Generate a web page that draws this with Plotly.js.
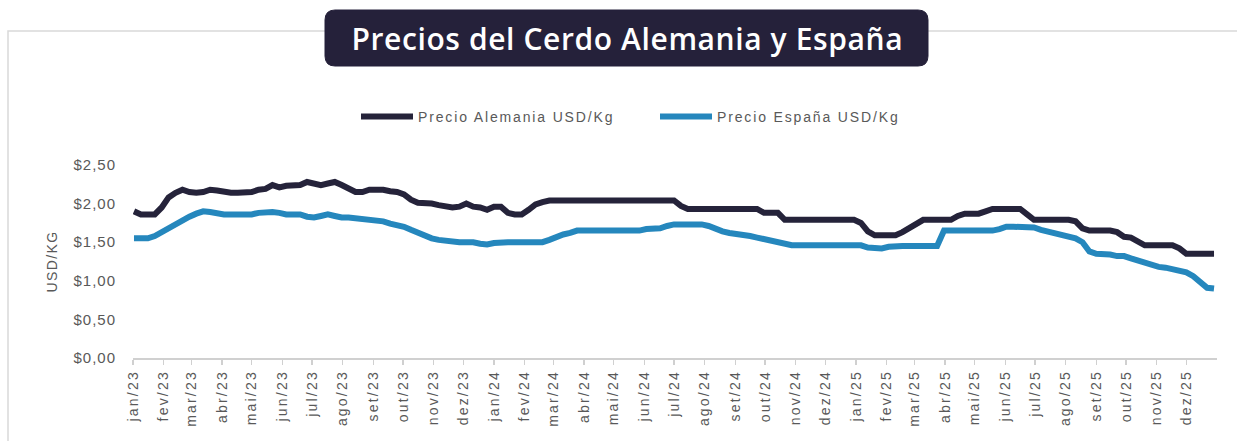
<!DOCTYPE html>
<html>
<head>
<meta charset="utf-8">
<script src="https://cdn.plot.ly/plotly-3.0.1.min.js"></script>
<style>
  html, body { margin: 0; padding: 0; background: #ffffff; }
  #chart { width: 1237px; height: 441px; }
  #chart .xtick text { letter-spacing: 2.2px; }
  #chart .ytick text { letter-spacing: 1px; }
  #chart .legendtext { letter-spacing: 1.85px; }
  #chart .ytitle { letter-spacing: 1.4px; }
  #chart .annotation-text { letter-spacing: 0.6px; }
</style>
</head>
<body>
<div id="chart"></div>
<script>
// ---- Data (weekly, starting Monday 2023-01-02) ----
const firstWeek = '2023-01-02';

const germany = [
  1.90, 1.86, 1.86, 1.86, 1.95, 2.08, 2.14, 2.18, 2.15, 2.14,
  2.15, 2.18, 2.17, 2.15, 2.14, 2.14, 2.14, 2.15, 2.18, 2.19,
  2.24, 2.21, 2.23, 2.24, 2.24, 2.28, 2.25, 2.24, 2.26, 2.28,
  2.24, 2.19, 2.15, 2.15, 2.18, 2.18, 2.18, 2.16, 2.15, 2.12,
  2.05, 2.01, 2.01, 2.00, 1.98, 1.97, 1.95, 1.96, 2.00, 1.96,
  1.95, 1.92, 1.96, 1.96, 1.88, 1.86, 1.86, 1.92, 1.99, 2.02,
  2.04, 2.04, 2.04, 2.04, 2.04, 2.04, 2.04, 2.04, 2.04, 2.04,
  2.04, 2.04, 2.04, 2.04, 2.04, 2.04, 2.04, 2.04, 2.04, 1.97,
  1.93, 1.93, 1.93, 1.93, 1.93, 1.93, 1.93, 1.93, 1.93, 1.93,
  1.93, 1.88, 1.88, 1.88, 1.79, 1.79, 1.79, 1.79, 1.79, 1.79,
  1.79, 1.79, 1.79, 1.79, 1.79, 1.75, 1.64, 1.59, 1.59, 1.59,
  1.59, 1.63, 1.69, 1.75, 1.79, 1.79, 1.79, 1.79, 1.79, 1.84,
  1.87, 1.87, 1.87, 1.90, 1.93, 1.93, 1.93, 1.93, 1.93, 1.86,
  1.79, 1.79, 1.79, 1.79, 1.79, 1.79, 1.77, 1.68, 1.65, 1.65,
  1.65, 1.65, 1.63, 1.57, 1.56, 1.50, 1.46, 1.46, 1.46, 1.46,
  1.46, 1.42, 1.35, 1.35, 1.35, 1.35, 1.35
];

const spain = [
  1.55, 1.55, 1.55, 1.58, 1.63, 1.69, 1.75, 1.79, 1.83, 1.87,
  1.90, 1.89, 1.87, 1.86, 1.86, 1.86, 1.86, 1.86, 1.88, 1.89,
  1.89, 1.88, 1.86, 1.86, 1.86, 1.83, 1.82, 1.84, 1.86, 1.84,
  1.82, 1.82, 1.81, 1.80, 1.79, 1.78, 1.77, 1.74, 1.72, 1.70,
  1.66, 1.62, 1.58, 1.55, 1.53, 1.52, 1.50, 1.50, 1.50, 1.50,
  1.48, 1.47, 1.49, 1.50, 1.50, 1.50, 1.50, 1.50, 1.50, 1.50,
  1.53, 1.57, 1.60, 1.62, 1.65, 1.65, 1.65, 1.65, 1.65, 1.65,
  1.65, 1.65, 1.65, 1.65, 1.67, 1.68, 1.68, 1.71, 1.73, 1.73,
  1.73, 1.73, 1.73, 1.71, 1.67, 1.64, 1.62, 1.61, 1.60, 1.58,
  1.56, 1.54, 1.51, 1.49, 1.47, 1.46, 1.46, 1.46, 1.46, 1.46,
  1.46, 1.46, 1.46, 1.46, 1.46, 1.46, 1.43, 1.42, 1.42, 1.44,
  1.45, 1.45, 1.45, 1.45, 1.45, 1.45, 1.45, 1.65, 1.65, 1.65,
  1.65, 1.65, 1.65, 1.65, 1.65, 1.67, 1.70, 1.70, 1.70, 1.70,
  1.69, 1.66, 1.64, 1.62, 1.60, 1.57, 1.55, 1.50, 1.38, 1.35,
  1.35, 1.34, 1.32, 1.32, 1.29, 1.26, 1.23, 1.20, 1.18, 1.17,
  1.15, 1.13, 1.11, 1.06, 0.98, 0.91, 0.90
];

const seriesNames = ['Precio Alemania USD/Kg', 'Precio España USD/Kg'];
const monthAbbr = ['jan', 'fev', 'mar', 'abr', 'mai', 'jun', 'jul', 'ago', 'set', 'out', 'nov', 'dez'];
const years = [2023, 2024, 2025];
const yTicks = [0, 0.5, 1.0, 1.5, 2.0, 2.5];
const yTickLabels = ['$0,00', '$0,50', '$1,00', '$1,50', '$2,00', '$2,50'];
const chartTitle = 'Precios del Cerdo Alemania y España';
const yTitle = 'USD/KG';

// ---- Build x dates and month ticks ----
const start = new Date(firstWeek + 'T00:00:00Z').getTime();
const weeks = germany.map((_, i) => new Date(start + i * 7 * 86400000).toISOString().slice(0, 10));

const tickVals = [];
const tickText = [];
years.forEach(y => {
  monthAbbr.forEach((m, k) => {
    tickVals.push(y + '-' + String(k + 1).padStart(2, '0') + '-01');
    tickText.push(m + '/' + String(y).slice(2));
  });
});

// ---- Geometry helpers (pixel -> paper) ----
const W = 1237, H = 441;
const M = { l: 133, r: 20, t: 165, b: 83 };
const PW = W - M.l - M.r, PH = H - M.t - M.b;
const px = X => (X - M.l) / PW;
const py = Y => (H - M.b - Y) / PH;

function roundRect(X0, Y0, X1, Y1, r) {
  const x0 = px(X0), x1 = px(X1), yt = py(Y0), yb = py(Y1);
  const rx = r / PW, ry = r / PH;
  return `M ${x0 + rx},${yb} L ${x1 - rx},${yb} Q ${x1},${yb} ${x1},${yb + ry} ` +
         `L ${x1},${yt - ry} Q ${x1},${yt} ${x1 - rx},${yt} L ${x0 + rx},${yt} ` +
         `Q ${x0},${yt} ${x0},${yt - ry} L ${x0},${yb + ry} Q ${x0},${yb} ${x0 + rx},${yb} Z`;
}

const grey = '#595959';
const txtFont = 'Liberation Sans, Arial, sans-serif';

const traces = [
  {
    x: weeks, y: germany, name: seriesNames[0], type: 'scatter', mode: 'lines',
    line: { color: '#25233a', width: 6 }
  },
  {
    x: weeks, y: spain, name: seriesNames[1], type: 'scatter', mode: 'lines',
    line: { color: '#2587bd', width: 6 }
  }
];

const layout = {
  width: W, height: H,
  margin: M,
  paper_bgcolor: '#ffffff',
  plot_bgcolor: '#ffffff',
  separators: ',.',
  showlegend: true,
  legend: {
    orientation: 'h',
    x: px(356), xanchor: 'left',
    y: py(117), yanchor: 'middle',
    font: { family: txtFont, size: 14, color: grey },
    itemwidth: 52,
    entrywidth: 232,
    entrywidthmode: 'pixels',
    traceorder: 'normal',
    bgcolor: 'rgba(0,0,0,0)'
  },
  xaxis: {
    type: 'date',
    range: ['2023-01-01', '2026-01-01'],
    tickmode: 'array',
    tickvals: tickVals,
    ticktext: tickText,
    tickangle: -90,
    tickfont: { family: txtFont, size: 14, color: grey },
    showline: true, linecolor: '#d0d0d0', linewidth: 1.5,
    ticks: 'outside', ticklen: 5, tickcolor: '#d0d0d0', tickwidth: 1.5,
    showgrid: false, zeroline: false, fixedrange: true
  },
  yaxis: {
    range: [0, 2.5],
    tickmode: 'array',
    tickvals: yTicks,
    ticktext: yTickLabels,
    tickfont: { family: txtFont, size: 15, color: grey },
    ticklabelstandoff: 16,
    showline: false, showgrid: false, zeroline: false, ticks: '',
    title: { text: yTitle, font: { family: txtFont, size: 14, color: grey }, standoff: 17 },
    fixedrange: true
  },
  shapes: [
    {
      type: 'path', xref: 'paper', yref: 'paper', layer: 'below',
      path: `M ${px(8)},${py(441)} L ${px(8)},${py(31)} L ${px(1237)},${py(31)}`,
      line: { color: '#d9d9d9', width: 1.5 }
    },
    {
      type: 'path', xref: 'paper', yref: 'paper', layer: 'above',
      path: roundRect(325, 10, 928, 66, 10),
      fillcolor: '#25213a',
      line: { color: '#25213a', width: 1 }
    }
  ],
  annotations: [
    {
      text: chartTitle,
      xref: 'paper', yref: 'paper',
      x: px(627), y: py(38), xanchor: 'center', yanchor: 'middle',
      showarrow: false,
      font: { family: 'Open Sans, sans-serif', size: 30, color: '#ffffff', weight: 600 }
    }
  ]
};

Plotly.newPlot('chart', traces, layout, { staticPlot: true, displayModeBar: false });
</script>
</body>
</html>
